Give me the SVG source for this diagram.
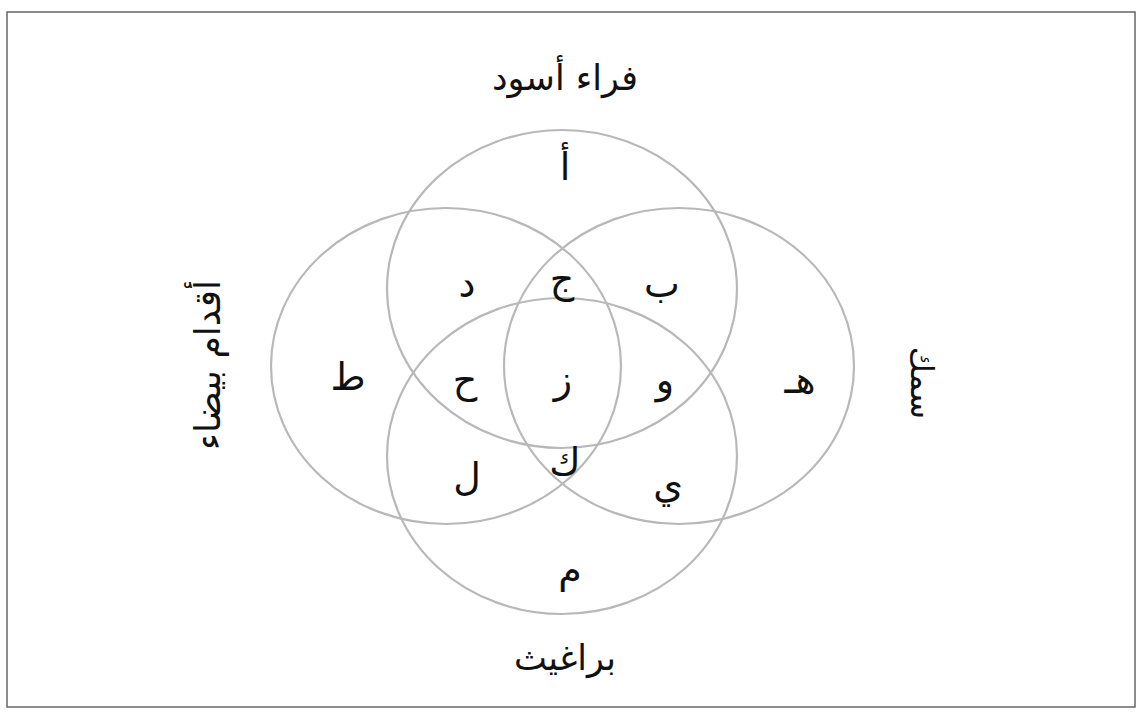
<svg xmlns="http://www.w3.org/2000/svg" width="1141" height="713" viewBox="0 0 1141 713">
<style>
.set{fill:none;stroke:#b8b8b8;stroke-width:2.2}
.lt{font-family:"DejaVu Sans",sans-serif;font-size:38px;fill:#111;text-anchor:middle;dominant-baseline:central}
.lb{font-family:"DejaVu Sans",sans-serif;font-size:35px;fill:#111;text-anchor:middle;dominant-baseline:central}
</style>
<rect x="0" y="0" width="1141" height="713" fill="#fff"/>
<rect x="7" y="12" width="1128" height="695" fill="none" stroke="#666" stroke-width="1.5"/>
<g id="connectors"></g>
<g id="set-top"><ellipse class="set" cx="562" cy="289" rx="175" ry="159"/><text class="lb" x="565" y="78">فراء أسود</text></g>
<g id="set-left"><ellipse class="set" cx="446" cy="366" rx="175" ry="158"/><text class="lb" style="font-size:36px" transform="translate(207 365) rotate(-90)">أقدام بيضاء</text></g>
<g id="set-right"><ellipse class="set" cx="679" cy="366" rx="175" ry="158"/><text class="lb" style="font-size:32px" transform="translate(922 383) rotate(90)">سمك</text></g>
<g id="set-bottom"><ellipse class="set" cx="562" cy="456" rx="175" ry="158"/><text class="lb" x="565" y="658">براغيث</text></g>
<g id="regions">
<text class="lt" x="565" y="167">أ</text>
<text class="lt" x="467" y="284">د</text>
<text class="lt" x="562" y="279">ج</text>
<text class="lt" x="662" y="284">ب</text>
<text class="lt" x="348" y="377">ط</text>
<text class="lt" x="465" y="380">ح</text>
<text class="lt" x="563" y="380">ز</text>
<text class="lt" x="665" y="380">و</text>
<text class="lt" x="800" y="380">هـ</text>
<text class="lt" x="565" y="462">ك</text>
<text class="lt" x="467" y="477">ل</text>
<text class="lt" x="668" y="485">ي</text>
<text class="lt" x="570" y="570">م</text>
</g>
</svg>
